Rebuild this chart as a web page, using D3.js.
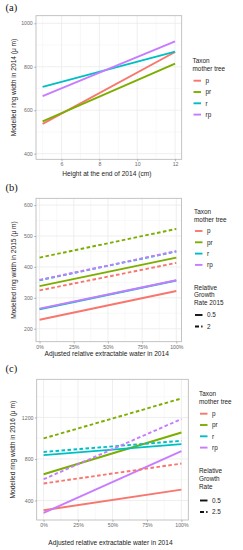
<!DOCTYPE html>
<html>
<head>
<meta charset="utf-8">
<script src="https://cdn.jsdelivr.net/npm/d3@7"></script>
<style>
  body { margin: 0; background: #fff; }
  svg { display: block; font-family: "Liberation Sans", Arial, sans-serif; }
  .tick-label { fill: #6b6b6b; font-size: 5.2px; font-family: "Liberation Sans", Arial, sans-serif; }
  .axis-title { fill: #222; font-size: 6.6px; }
  .legend text { fill: #222; font-size: 6.4px; }
  .panel-tag { font-family: "Liberation Serif", "Times New Roman", serif; font-size: 10.5px; fill: #111; }
</style>
</head>
<body>
<svg id="chart" width="243" height="550"></svg>
<script>
// taxa of the mother tree, in legend order
var taxa = ["p", "pr", "r", "rp"];

// (a) ring width 2014 vs height, values at both ends of the height range
var heightRange = [5, 12];
var ring2014Start = [537, 549, 707, 665];
var ring2014End = [868, 814, 870, 917];
var heightTicks = [6, 8, 10, 12];
var ring2014Ticks = [400, 600, 800, 1000];

// (b) ring width 2015 vs adjusted REW, for two relative growth rates
var rewRange = [0, 1];
var rgr2015 = ["0.5", "2"];
var ring2015LowStart = [229, 338, 263, 265];
var ring2015LowEnd = [322, 430, 356, 357];
var ring2015HighStart = [324, 430, 357, 358];
var ring2015HighEnd = [413, 523, 450, 451];
var ring2015Ticks = [200, 300, 400, 500, 600];

// (c) ring width 2016 vs adjusted REW, for two relative growth rates
var rgr2016 = ["0.5", "2.5"];
var ring2016LowStart = [306, 653, 837, 280];
var ring2016LowEnd = [505, 1055, 943, 875];
var ring2016HighStart = [564, 998, 868, 605];
var ring2016HighEnd = [756, 1383, 975, 1185];
var ring2016Ticks = [400, 800, 1200];

var rewTicks = [0, 0.25, 0.5, 0.75, 1];

var color = d3.scaleOrdinal()
    .domain(taxa)
    .range(["#F8766D", "#7CAE00", "#00BFC4", "#C77CFF"]);

var dashes = "3.6,2.4";
var svg = d3.select("#chart");

function buildLines(range, lows, highs, dashed) {
  var out = [];
  taxa.forEach(function(t, i) {
    out.push({taxon: t, dashed: dashed, pts: [[range[0], lows[i]], [range[1], highs[i]]]});
  });
  return out;
}

function drawPanel(cfg) {
  var g = svg.append("g");
  var x = d3.scaleLinear().domain(cfg.xDomain).range([cfg.box.left, cfg.box.right]);
  var y = d3.scaleLinear().domain(cfg.yDomain).range([cfg.box.bottom, cfg.box.top]);

  // minor grid
  var xMinor = [], yMinor = [];
  for (var i = 0; i < cfg.xTicks.length - 1; i++) xMinor.push((cfg.xTicks[i] + cfg.xTicks[i + 1]) / 2);
  var dx = cfg.xTicks[1] - cfg.xTicks[0];
  if (cfg.xTicks[0] - dx / 2 > cfg.xDomain[0]) xMinor.push(cfg.xTicks[0] - dx / 2);
  for (i = 0; i < cfg.yTicks.length - 1; i++) yMinor.push((cfg.yTicks[i] + cfg.yTicks[i + 1]) / 2);
  var dy = cfg.yTicks[1] - cfg.yTicks[0];
  var last = cfg.yTicks[cfg.yTicks.length - 1];
  if (last + dy / 2 < cfg.yDomain[1]) yMinor.push(last + dy / 2);
  if (cfg.yTicks[0] - dy / 2 > cfg.yDomain[0]) yMinor.push(cfg.yTicks[0] - dy / 2);

  g.selectAll(".vminor").data(xMinor).enter().append("line")
      .attr("x1", x).attr("x2", x)
      .attr("y1", cfg.box.top).attr("y2", cfg.box.bottom)
      .attr("stroke", "#f4f4f4").attr("stroke-width", 0.6);
  g.selectAll(".hminor").data(yMinor).enter().append("line")
      .attr("y1", y).attr("y2", y)
      .attr("x1", cfg.box.left).attr("x2", cfg.box.right)
      .attr("stroke", "#f4f4f4").attr("stroke-width", 0.6);
  g.selectAll(".vmajor").data(cfg.xTicks).enter().append("line")
      .attr("x1", x).attr("x2", x)
      .attr("y1", cfg.box.top).attr("y2", cfg.box.bottom)
      .attr("stroke", "#ebebeb").attr("stroke-width", 0.8);
  g.selectAll(".hmajor").data(cfg.yTicks).enter().append("line")
      .attr("y1", y).attr("y2", y)
      .attr("x1", cfg.box.left).attr("x2", cfg.box.right)
      .attr("stroke", "#ebebeb").attr("stroke-width", 0.8);

  // lines
  var line = d3.line().x(function(d) { return x(d[0]); }).y(function(d) { return y(d[1]); });
  g.selectAll(".series").data(cfg.lines).enter().append("path")
      .attr("d", function(d) { return line(d.pts); })
      .attr("fill", "none")
      .attr("stroke", function(d) { return color(d.taxon); })
      .attr("stroke-width", 1.9)
      .attr("stroke-dasharray", function(d) { return d.dashed ? dashes : null; });

  // border
  g.append("rect")
      .attr("x", cfg.box.left).attr("y", cfg.box.top)
      .attr("width", cfg.box.right - cfg.box.left)
      .attr("height", cfg.box.bottom - cfg.box.top)
      .attr("fill", "none").attr("stroke", "#b5b5b5").attr("stroke-width", 0.8);

  // axes
  var xAxis = d3.axisBottom(x).tickValues(cfg.xTicks).tickSize(1.8).tickPadding(1.5).tickFormat(cfg.xFormat);
  var yAxis = d3.axisLeft(y).tickValues(cfg.yTicks).tickSize(1.8).tickPadding(1.5).tickFormat(d3.format("d"));
  var gx = g.append("g").attr("transform", "translate(0," + cfg.box.bottom + ")").call(xAxis);
  var gy = g.append("g").attr("transform", "translate(" + cfg.box.left + ",0)").call(yAxis);
  [gx, gy].forEach(function(a) {
    a.attr("font-family", null).attr("font-size", null);
    a.select(".domain").remove();
    a.selectAll(".tick line").attr("stroke", "#888").attr("stroke-width", 0.6);
    a.selectAll(".tick text").attr("class", "tick-label");
  });

  g.append("text").attr("class", "axis-title")
      .attr("x", (cfg.box.left + cfg.box.right) / 2 - 2).attr("y", cfg.xTitleY)
      .attr("text-anchor", "middle").text(cfg.xTitle);
  g.append("text").attr("class", "axis-title")
      .attr("transform", "translate(" + cfg.yTitleX + "," + (cfg.box.top + cfg.box.bottom) / 2 + ") rotate(-90)")
      .attr("text-anchor", "middle").text(cfg.yTitle);

  g.append("text").attr("class", "panel-tag")
      .attr("x", 5.5).attr("y", cfg.tagY).text(cfg.tag);

  // legend
  var lg = g.append("g").attr("class", "legend").attr("transform", "translate(" + cfg.legend.x + ",0)");
  lg.append("text").attr("y", cfg.legend.titleY).text("Taxon");
  lg.append("text").attr("y", cfg.legend.titleY + 7.6).text("mother tree");
  var items = lg.selectAll(".item").data(taxa).enter().append("g")
      .attr("transform", function(d, i) { return "translate(0," + (cfg.legend.firstY + i * 11.3) + ")"; });
  items.append("line").attr("x1", 1).attr("x2", 8.5)
      .attr("stroke", function(d) { return color(d); }).attr("stroke-width", 1.9);
  items.append("text").attr("x", 13).attr("dy", "0.35em").text(function(d) { return d; });

  if (cfg.rgr) {
    cfg.rgrTitle.forEach(function(t, i) {
      lg.append("text").attr("y", cfg.legend.rgrTitleY + i * 7.8).text(t);
    });
    var ri = lg.selectAll(".ritem").data(cfg.rgr).enter().append("g")
        .attr("transform", function(d, i) { return "translate(0," + (cfg.legend.rgrFirstY + i * 11.5) + ")"; });
    ri.append("line").attr("x1", 1).attr("x2", 8.5)
        .attr("stroke", "#111").attr("stroke-width", 1.9)
        .attr("stroke-dasharray", function(d, i) { return i ? "4,2.2" : null; });
    ri.append("text").attr("x", 13).attr("dy", "0.35em").text(function(d) { return d; });
  }
}

var pct = function(d) { return Math.round(d * 100) + "%"; };

drawPanel({
  tag: "(a)", tagY: 10.5,
  box: {left: 36, right: 181.7, top: 15.7, bottom: 159.3},
  xDomain: [4.65, 12.35], yDomain: [374, 1035],
  xTicks: heightTicks, yTicks: ring2014Ticks, xFormat: d3.format("d"),
  lines: buildLines(heightRange, ring2014Start, ring2014End, false),
  xTitle: "Height at the end of 2014 (cm)", xTitleY: 175.5,
  yTitle: "Modelled ring width in 2014 (μ m)", yTitleX: 16,
  legend: {x: 192.5, titleY: 63, firstY: 80.7}
});

drawPanel({
  tag: "(b)", tagY: 191,
  box: {left: 36, right: 181.5, top: 198.3, bottom: 341.7},
  xDomain: [-0.026, 1.038], yDomain: [158, 622],
  xTicks: rewTicks, yTicks: ring2015Ticks, xFormat: pct,
  lines: buildLines(rewRange, ring2015LowStart, ring2015LowEnd, false)
      .concat(buildLines(rewRange, ring2015HighStart, ring2015HighEnd, true)),
  xTitle: "Adjusted relative extractable water in 2014", xTitleY: 356,
  yTitle: "Modelled ring width in 2015 (μ m)", yTitleX: 16,
  legend: {x: 194, titleY: 214, firstY: 231, rgrTitleY: 289.5, rgrFirstY: 315},
  rgr: rgr2015, rgrTitle: ["Relative", "Growth", "Rate 2015"]
});

drawPanel({
  tag: "(c)", tagY: 372,
  box: {left: 36.7, right: 188.3, top: 379.3, bottom: 520},
  xDomain: [-0.05, 1.05], yDomain: [212, 1568],
  xTicks: rewTicks, yTicks: ring2016Ticks, xFormat: pct,
  lines: buildLines(rewRange, ring2016LowStart, ring2016LowEnd, false)
      .concat(buildLines(rewRange, ring2016HighStart, ring2016HighEnd, true)),
  xTitle: "Adjusted relative extractable water in 2014", xTitleY: 545,
  yTitle: "Modelled ring width in 2016 (μ m)", yTitleX: 15,
  legend: {x: 199, titleY: 396, firstY: 413.7, rgrTitleY: 473, rgrFirstY: 500.5},
  rgr: rgr2016, rgrTitle: ["Relative", "Growth", "Rate"]
});
</script>
</body>
</html>
